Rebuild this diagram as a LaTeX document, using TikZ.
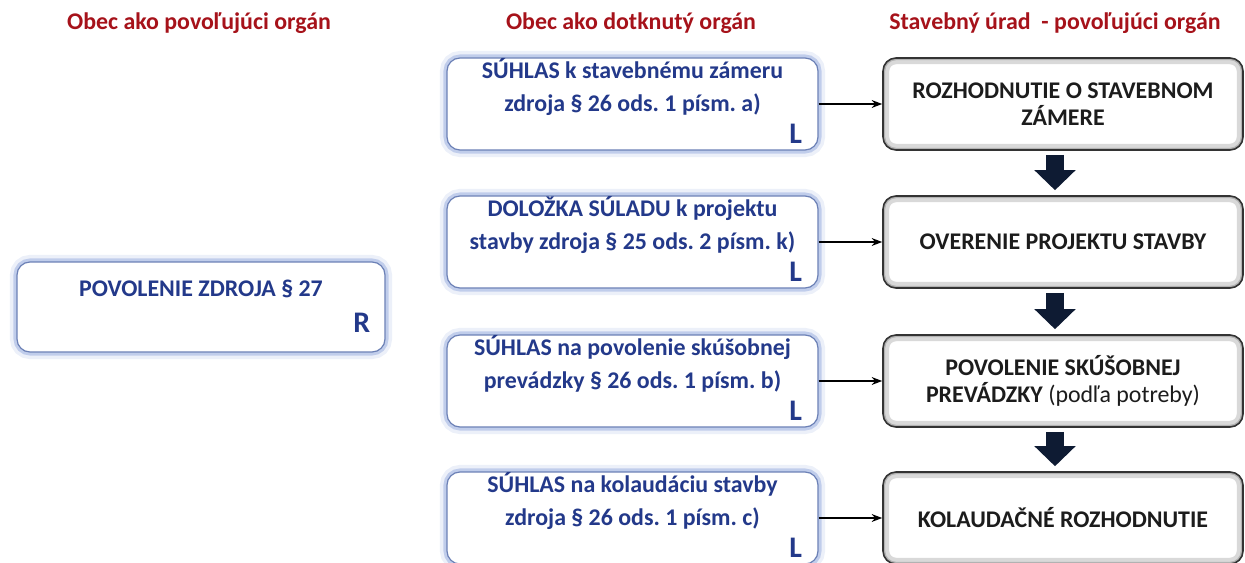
\documentclass[tikz,border=0pt]{standalone}
\usepackage{fontspec}
\setmainfont{Carlito}
\usetikzlibrary{positioning,arrows.meta}
\definecolor{titlered}{HTML}{A6121A}
\definecolor{textblue}{HTML}{23398A}
\definecolor{glowblue}{HTML}{7F98D6}
\definecolor{arrownavy}{HTML}{0E1B33}
\definecolor{textdark}{HTML}{1C1C1C}
\frenchspacing

\begin{document}
\begin{tikzpicture}[auto, semithick,
    font=\fontsize{13.6}{17}\selectfont\bfseries,
    title/.style={text=titlered},
    organ/.style={rectangle, rounded corners=0.26cm, fill=white,
      draw=glowblue!85!black, line width=0.7pt,
      minimum width=7.42cm, minimum height=1.84cm,
      preaction={draw=glowblue, line width=8pt, opacity=.15},
      preaction={draw=glowblue, line width=4pt, opacity=.4}},
    decision/.style={rectangle, rounded corners=0.26cm, fill=white,
      draw=black!80, line width=0.9pt,
      minimum width=7.2cm, minimum height=1.84cm,
      path picture={\draw[black!15, line width=7pt, rounded corners=0.26cm]
        (path picture bounding box.south west) rectangle (path picture bounding box.north east);
        \draw[black!30, line width=2.5pt, rounded corners=0.26cm]
        (path picture bounding box.south west) rectangle (path picture bounding box.north east);}},
    bluetext/.style={text=textblue, align=center, font=\fontsize{13.6}{18.5}\selectfont\bfseries},
    darktext/.style={text=textdark, align=center, font=\fontsize{13.6}{15.3}\selectfont\bfseries},
    rolemark/.style={text=textblue, font=\fontsize{17}{19}\selectfont\bfseries, inner sep=0pt},
    thinarrow/.style={-{Stealth[length=6pt,width=4.5pt]}, line width=0.7pt, black},
    bigarrow/.style={arrownavy, line width=0.36cm, -{Triangle[width=0.8cm,length=0.4cm]}}
    ]

\useasboundingbox (0,0) rectangle (24.9,-11.26);

% column titles
\node[title] (T1) at (3.98,-0.46) {Obec ako povoľujúci orgán};
\node[title] (T2) at (12.62,-0.46) {Obec ako dotknutý orgán};
\node[title] (T3) at (21.1,-0.46) {Stavebný úrad\ \ - povoľujúci orgán};

% obec - povolenie
\node[organ, minimum width=7.36cm, minimum height=1.8cm] (P) at (4.02,-6.14) {};
\node[bluetext] (Pt) at ([yshift=0.36cm]P.center) {POVOLENIE ZDROJA § 27};
\node[rolemark, anchor=south east] (Pm) at ([xshift=-0.3cm,yshift=0.4cm]P.south east) {R};

% obec - dotknuty organ
\node[organ] (S1) at (12.65,-2.08) {};
\node[organ] (S2) at (12.65,-4.84) {};
\node[organ] (S3) at (12.65,-7.62) {};
\node[organ] (S4) at (12.65,-10.36) {};
\node[bluetext] (S1t) at ([yshift=0.34cm]S1.center) {SÚHLAS k stavebnému zámeru\\zdroja § 26 ods. 1 písm. a)};
\node[bluetext] (S2t) at ([yshift=0.34cm]S2.center) {DOLOŽKA SÚLADU k projektu\\stavby zdroja § 25 ods. 2 písm. k)};
\node[bluetext] (S3t) at ([yshift=0.34cm]S3.center) {SÚHLAS na povolenie skúšobnej\\prevádzky § 26 ods. 1 písm. b)};
\node[bluetext] (S4t) at ([yshift=0.34cm]S4.center) {SÚHLAS na kolaudáciu stavby\\zdroja § 26 ods. 1 písm. c)};
\node[rolemark, anchor=south east] (S1m) at ([xshift=-0.32cm,yshift=0.13cm]S1.south east) {L};
\node[rolemark, anchor=south east] (S2m) at ([xshift=-0.32cm,yshift=0.13cm]S2.south east) {L};
\node[rolemark, anchor=south east] (S3m) at ([xshift=-0.32cm,yshift=0.13cm]S3.south east) {L};
\node[rolemark, anchor=south east] (S4m) at ([xshift=-0.32cm,yshift=0.13cm]S4.south east) {L};

% stavebny urad
\node[decision] (D1) at (21.26,-2.08) {};
\node[decision] (D2) at (21.26,-4.84) {};
\node[decision] (D3) at (21.26,-7.62) {};
\node[decision] (D4) at (21.26,-10.36) {};
\node[darktext] (D1t) at (D1.center) {ROZHODNUTIE O STAVEBNOM\\ZÁMERE};
\node[darktext] (D2t) at (D2.center) {OVERENIE PROJEKTU STAVBY};
\node[darktext] (D3t) at (D3.center) {POVOLENIE SKÚŠOBNEJ\\PREVÁDZKY {\mdseries(podľa potreby)}};
\node[darktext] (D4t) at (D4.center) {KOLAUDAČNÉ ROZHODNUTIE};

\draw[thinarrow] (S1) -- (D1);
\draw[thinarrow] (S2) -- (D2);
\draw[thinarrow] (S3) -- (D3);
\draw[thinarrow] (S4) -- (D4);

\draw[bigarrow] ([xshift=-0.16cm,yshift=-0.08cm]D1.south) -- ([xshift=-0.16cm,yshift=0.1cm]D2.north);
\draw[bigarrow] ([xshift=-0.16cm,yshift=-0.08cm]D2.south) -- ([xshift=-0.16cm,yshift=0.1cm]D3.north);
\draw[bigarrow] ([xshift=-0.16cm,yshift=-0.08cm]D3.south) -- ([xshift=-0.16cm,yshift=0.1cm]D4.north);
\end{tikzpicture}
\end{document}
